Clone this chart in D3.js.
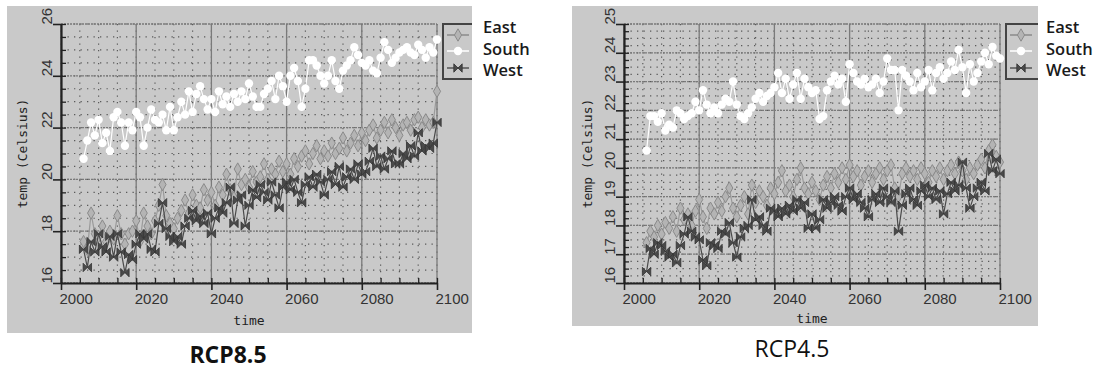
<!DOCTYPE html>
<html>
<head>
<meta charset="utf-8">
<script src="https://cdn.jsdelivr.net/npm/d3@7"></script>
<style>
  body { margin: 0; background: #fff; }
  svg { display: block; }
</style>
</head>
<body>
<svg id="chart" width="1102" height="369"></svg>
<script>
// yearly values, 2006..2100
const years = d3.range(2006, 2101);
const xTicks = [2000, 2020, 2040, 2060, 2080, 2100];
const yTicks85 = [16, 18, 20, 22, 24, 26];
const yTicks45 = [16, 17, 18, 19, 20, 21, 22, 23, 24, 25];
const seriesNames = ["East", "South", "West"];

const east85 = [
  17.6, 17.3, 18.7, 17.9, 17.8, 18.2, 17.6, 18.0, 17.7, 18.6,
  17.9, 17.5, 17.9, 18.0, 18.4, 17.6, 18.7, 18.2, 17.9, 18.4,
  19.0, 19.8, 18.6, 18.3, 18.1, 18.5, 18.8, 19.2, 18.7, 19.4,
  19.0, 18.9, 19.6, 19.2, 19.5, 19.0, 19.7, 19.4, 20.2, 19.6,
  19.3, 20.4, 19.8, 20.0, 19.7, 20.3, 19.9, 20.1, 20.6, 20.0,
  20.4, 20.2, 20.7, 20.3, 20.6, 20.2, 20.8, 20.5, 20.9, 21.1,
  20.6, 21.0, 21.3, 20.8, 21.1, 20.9, 21.4, 21.0, 21.2, 21.6,
  21.1, 21.4, 21.7, 21.3, 21.8, 21.5, 21.9, 22.1, 21.6, 21.9,
  22.2, 21.8, 22.3, 22.0, 21.7, 22.1, 22.2, 21.9, 22.3, 22.4,
  22.0, 22.3, 22.1, 22.2, 23.4
];
const south85 = [
  20.8, 21.5, 22.2, 21.7, 22.3, 21.4, 21.8, 21.1, 22.4, 22.6,
  22.2, 21.3, 22.2, 21.9, 22.6, 22.4, 21.3, 22.0, 22.7, 22.3,
  22.2, 22.5, 21.9, 22.8, 21.9, 22.4, 23.0, 22.5, 23.4, 22.6,
  23.3, 23.6, 23.1, 22.7, 23.1, 22.6, 23.4, 22.9, 23.2, 22.8,
  23.3, 23.0, 23.4, 23.1, 23.7, 23.2, 22.8, 22.8, 23.3, 23.5,
  23.8, 23.1, 24.0, 23.6, 23.0, 24.0, 24.3, 23.8, 22.8, 23.5,
  24.6, 24.6, 24.4, 24.0, 23.7, 24.0, 24.6, 23.8, 23.5, 24.2,
  24.4, 24.6, 25.1, 24.8, 24.5, 24.4, 24.6, 24.2, 24.1, 24.7,
  25.3, 25.0, 24.5, 24.7, 24.9, 25.0, 25.1, 24.9, 24.8, 25.2,
  25.0, 24.7, 25.1, 24.9, 25.4
];
const west85 = [
  17.3, 16.6, 17.6, 17.2, 17.9, 17.4, 17.2, 17.8, 17.0, 17.9,
  17.2, 16.4, 17.1, 16.9, 17.5, 17.9, 17.7, 17.9, 17.3, 17.2,
  18.3, 19.1, 18.1, 17.8, 17.6, 17.8, 17.5, 18.2, 18.5, 18.8,
  18.4, 18.6, 18.3, 18.7, 17.9, 18.5, 18.9, 18.7, 19.1, 19.7,
  18.3, 19.2, 19.4, 18.2, 19.0, 19.6, 19.3, 19.8, 19.5, 19.2,
  19.9, 19.4, 18.9, 19.7, 19.9, 19.6, 20.0, 19.5, 19.1, 19.8,
  20.1, 19.7, 20.2, 19.9, 19.4, 20.0, 20.3, 19.8, 20.5, 19.7,
  20.1, 20.4, 20.0, 20.6, 20.2, 20.3, 20.7, 21.2, 20.5, 20.9,
  20.4, 20.8, 21.1, 20.6, 20.6, 21.0, 20.8, 21.3, 20.9, 21.8,
  21.1, 21.3, 21.2, 21.4, 22.2
];
const east45 = [
  17.4, 17.8, 17.6, 18.0, 17.7, 18.1, 17.9, 18.3, 17.8, 18.6,
  18.2, 18.4, 18.0, 18.5, 18.9, 18.3, 17.9, 18.6, 18.4, 18.8,
  18.5, 19.0, 19.3, 18.6, 18.3, 18.7, 19.0, 18.4, 19.4, 18.8,
  19.2, 19.0, 18.7, 19.3, 19.1, 19.5, 19.9, 19.2, 19.4, 19.0,
  19.6, 20.0, 19.3, 19.1, 19.5, 19.2, 18.9, 19.4, 19.7, 19.3,
  19.8, 19.5, 20.0, 19.6, 20.1, 19.7, 19.9, 19.4, 19.7, 19.9,
  19.5, 19.8, 20.0, 19.6, 19.9, 20.1, 19.3, 19.0, 19.8, 20.0,
  19.7, 19.9, 19.6, 20.0, 19.8, 19.5, 19.9, 19.7, 20.0, 19.6,
  19.9, 20.1, 19.8, 20.2, 19.9, 19.6, 20.0, 19.8, 20.1, 20.3,
  20.0, 20.6, 20.8, 20.4, 20.2
];
const south45 = [
  20.6, 21.8, 21.8, 21.6, 21.9, 21.3, 21.5, 21.4, 22.0, 21.9,
  21.7, 21.8, 21.9, 22.3, 22.0, 22.7, 22.2, 21.9, 22.1, 21.9,
  22.2, 22.4, 22.3, 23.0, 22.2, 21.8, 21.7, 21.9, 22.1, 22.4,
  22.6, 22.3, 22.5, 22.6, 22.8, 23.3, 22.6, 23.1, 22.4, 22.9,
  23.3, 22.4, 23.1, 22.8, 22.6, 22.7, 21.7, 21.8, 22.7, 23.0,
  23.2, 22.9, 23.1, 22.3, 23.6, 23.3, 23.0, 22.9, 23.1, 22.8,
  22.9, 23.1, 22.6, 23.0, 23.8, 23.4, 23.4, 22.0, 23.4, 23.2,
  23.0, 22.7, 23.3, 22.8, 23.0, 23.4, 22.7, 23.3, 23.5, 23.1,
  23.3, 23.7, 23.4, 24.1, 23.5, 22.6, 23.6, 23.0, 23.3, 23.7,
  24.0, 23.6, 24.2, 23.9, 23.8
];
const west45 = [
  16.4, 17.2, 17.0, 17.4, 17.3, 17.1, 16.9, 17.0, 16.7, 17.3,
  17.7, 18.3, 17.8, 17.6, 17.5, 16.8, 16.6, 17.4, 17.3, 17.2,
  17.8, 17.7, 18.1, 17.4, 16.9, 17.6, 17.9, 18.0, 18.9, 18.2,
  18.3, 18.0, 17.8, 18.6, 18.5, 18.3, 18.6, 18.4, 18.7, 18.5,
  18.9, 18.6, 18.8, 17.9, 18.4, 17.9, 18.2, 18.9, 18.6, 18.8,
  19.0, 18.7, 18.5, 19.0, 19.3, 18.9, 19.1, 18.8, 18.6, 18.3,
  18.9, 19.1, 18.8, 19.3, 19.0, 18.8, 19.2, 17.8, 18.7, 19.1,
  19.3, 18.9, 18.7, 19.2, 19.4, 19.0, 19.3, 18.9, 19.2, 18.4,
  19.1, 19.5, 19.2, 19.4, 20.2, 19.3, 18.6, 19.0, 19.3, 19.5,
  19.2, 20.5, 19.9, 20.3, 19.8
];

const svg = d3.select("#chart");
const bg = "#c9c9c9";

// marker shapes
const diamond = d3.symbol().type(d3.symbolDiamond).size(44);
const bowtie = "M-4.2,-4.2L0,0L-4.2,4.2Z M4.2,-4.2L0,0L4.2,4.2Z";

function drawPanel(p) {
  const root = svg.append("g");
  const clipId = "clip" + p.id;
  root.append("clipPath").attr("id", clipId)
    .append("rect").attr("x", p.box[0]).attr("y", p.box[1])
    .attr("width", p.box[2] - p.box[0]).attr("height", p.box[3] - p.box[1]);

  root.append("rect")
    .attr("x", p.box[0]).attr("y", p.box[1])
    .attr("width", p.box[2] - p.box[0]).attr("height", p.box[3] - p.box[1])
    .attr("fill", bg);

  const x = d3.scaleLinear().domain([2000, 2100]).range([p.left, p.right]);
  const y = d3.scaleLinear().domain(p.yDomain).range([p.bottom, p.top]);

  const xMinor = d3.range(2000, 2101, 5);
  const ySub = (p.yTicks[1] - p.yTicks[0]) / 4;
  const yMinor = d3.range(p.yDomain[0], p.yDomain[1] + 1e-9, ySub);

  // minor dotted grid
  const grid = root.append("g");
  grid.selectAll(".vm").data(xMinor).join("line")
    .attr("x1", d => x(d)).attr("x2", d => x(d))
    .attr("y1", p.top).attr("y2", p.bottom)
    .attr("stroke", "#5a5a5a").attr("stroke-width", 1.2)
    .attr("stroke-dasharray", "1.3,5.2");
  grid.selectAll(".hm").data(yMinor).join("line")
    .attr("x1", p.left).attr("x2", p.right)
    .attr("y1", d => y(d)).attr("y2", d => y(d))
    .attr("stroke", "#5a5a5a").attr("stroke-width", 1.2)
    .attr("stroke-dasharray", "1.3,5.2");

  // major grid
  grid.selectAll(".vM").data(xTicks).join("line")
    .attr("x1", d => x(d)).attr("x2", d => x(d))
    .attr("y1", p.top).attr("y2", p.bottom)
    .attr("stroke", "#7a7a7a").attr("stroke-width", 1.3);
  grid.selectAll(".hM").data(p.yTicks).join("line")
    .attr("x1", p.left).attr("x2", p.right)
    .attr("y1", d => y(d)).attr("y2", d => y(d))
    .attr("stroke", "#7a7a7a").attr("stroke-width", 1.3)
    .attr("stroke-dasharray", "2,1");

  // axes
  const xAxis = d3.axisBottom(x).tickValues(xTicks).tickSize(7).tickSizeOuter(0)
    .tickFormat(d3.format("d"));
  const gx = root.append("g").attr("transform", `translate(0,${p.bottom})`).call(xAxis);
  gx.select(".domain").attr("stroke", "#222").attr("stroke-width", 2.2);
  gx.selectAll(".tick line").attr("stroke", "#222").attr("stroke-width", 1.6);
  gx.selectAll(".tick text")
    .attr("text-anchor", "start").attr("dx", -2).attr("y", 10)
    .attr("font-family", "Liberation Sans, Arial, sans-serif")
    .attr("font-size", 15).attr("fill", "#333");

  const gxm = root.append("g").attr("transform", `translate(0,${p.bottom})`)
    .call(d3.axisBottom(x).tickValues(xMinor).tickSize(-5).tickSizeOuter(0).tickFormat(""));
  gxm.select(".domain").remove();
  gxm.selectAll(".tick line").attr("stroke", "#222").attr("stroke-width", 1.3);

  const yAxis = d3.axisLeft(y).tickValues(p.yTicks).tickSize(8).tickSizeOuter(0)
    .tickFormat(d3.format("d"));
  const gy = root.append("g").attr("transform", `translate(${p.left},0)`).call(yAxis);
  gy.select(".domain").attr("stroke", "#222").attr("stroke-width", 2.2);
  gy.selectAll(".tick line").attr("stroke", "#222").attr("stroke-width", 1.6);
  gy.selectAll(".tick text")
    .attr("x", null).attr("dy", null)
    .attr("transform", `translate(${p.yLabelX},0) rotate(-90)`)
    .attr("text-anchor", "start")
    .attr("font-family", "Liberation Sans, Arial, sans-serif")
    .attr("font-size", 15).attr("fill", "#333");

  const gym = root.append("g").attr("transform", `translate(${p.left},0)`)
    .call(d3.axisLeft(y).tickValues(yMinor).tickSize(-5).tickSizeOuter(0).tickFormat(""));
  gym.select(".domain").remove();
  gym.selectAll(".tick line").attr("stroke", "#222").attr("stroke-width", 1.3);

  // axis titles
  root.append("text")
    .attr("transform", `translate(${p.titleX},${(p.top + p.bottom) / 2}) rotate(-90)`)
    .attr("text-anchor", "middle")
    .attr("font-family", "DejaVu Sans Mono, monospace").attr("font-size", 13)
    .attr("fill", "#222").text("temp (Celsius)");
  root.append("text")
    .attr("x", (p.left + p.right) / 2).attr("y", p.timeY)
    .attr("text-anchor", "middle")
    .attr("font-family", "DejaVu Sans Mono, monospace").attr("font-size", 13)
    .attr("fill", "#222").text("time");

  // series
  const line = d3.line().x((d, i) => x(years[i])).y(d => y(d));
  const plot = root.append("g");

  plot.append("path").datum(p.east).attr("d", line)
    .attr("fill", "none").attr("stroke", "#9a9a9a").attr("stroke-width", 1.2);
  plot.selectAll(".e").data(p.east).join("path")
    .attr("transform", (d, i) => `translate(${x(years[i])},${y(d)})`)
    .attr("d", diamond).attr("fill", "#b4b4b4").attr("stroke", "#8a8a8a").attr("stroke-width", 1);

  plot.append("path").datum(p.west).attr("d", line)
    .attr("fill", "none").attr("stroke", "#4a4a4a").attr("stroke-width", 1.2);
  plot.selectAll(".w").data(p.west).join("path")
    .attr("transform", (d, i) => `translate(${x(years[i])},${y(d)})`)
    .attr("d", bowtie).attr("fill", "#4a4a4a").attr("stroke", "#333").attr("stroke-width", 0.8);

  plot.append("path").datum(p.south).attr("d", line)
    .attr("fill", "none").attr("stroke", "#fff").attr("stroke-width", 1.2);
  plot.selectAll(".s").data(p.south).join("circle")
    .attr("cx", (d, i) => x(years[i])).attr("cy", d => y(d)).attr("r", 4.2)
    .attr("fill", "#fff");

  // legend (right edge hidden by panel edge)
  const lg = root.append("g").attr("clip-path", `url(#${clipId})`);
  const lx = p.right + 6;
  lg.append("rect").attr("x", lx).attr("y", p.top).attr("width", 50).attr("height", 55)
    .attr("fill", bg).attr("stroke", "#444").attr("stroke-width", 2);
  const ly = [p.top + 11, p.top + 27, p.top + 44];
  const sx = lx + 15;
  lg.append("line").attr("x1", lx + 4).attr("x2", lx + 26).attr("y1", ly[0]).attr("y2", ly[0])
    .attr("stroke", "#8a8a8a").attr("stroke-width", 1.5);
  lg.append("path").attr("transform", `translate(${sx},${ly[0]})`).attr("d", diamond)
    .attr("fill", "#b4b4b4").attr("stroke", "#8a8a8a");
  lg.append("line").attr("x1", lx + 4).attr("x2", lx + 26).attr("y1", ly[1]).attr("y2", ly[1])
    .attr("stroke", "#fff").attr("stroke-width", 1.5);
  lg.append("circle").attr("cx", sx).attr("cy", ly[1]).attr("r", 4.2).attr("fill", "#fff");
  lg.append("line").attr("x1", lx + 4).attr("x2", lx + 26).attr("y1", ly[2]).attr("y2", ly[2])
    .attr("stroke", "#555").attr("stroke-width", 1.5);
  lg.append("path").attr("transform", `translate(${sx},${ly[2]})`).attr("d", bowtie)
    .attr("fill", "#4a4a4a").attr("stroke", "#333").attr("stroke-width", 0.8);

  root.selectAll(".lt").data(seriesNames).join("text")
    .attr("x", p.legendTextX).attr("y", (d, i) => 33 + i * 21.5)
    .attr("font-family", "Open Sans, sans-serif").attr("font-weight", 600)
    .attr("font-size", 16.5).attr("fill", "#1a1a1a").text(d => d);

  root.append("text")
    .attr("x", p.captionX).attr("y", p.captionY).attr("text-anchor", "middle")
    .attr("font-family", "Open Sans, sans-serif").attr("font-weight", p.captionWeight)
    .attr("font-size", 23).attr("fill", "#111").text(p.caption);
}

drawPanel({
  id: 1, box: [7, 6, 472, 333], left: 61, right: 437, top: 24, bottom: 283,
  yDomain: [16, 26], yTicks: yTicks85, yLabelX: -9, titleX: 27, timeY: 325,
  east: east85, south: south85, west: west85,
  legendTextX: 483, caption: "RCP8.5", captionX: 228, captionY: 363, captionWeight: 700
});
drawPanel({
  id: 2, box: [572, 6, 1038, 326], left: 624, right: 1000, top: 24, bottom: 283,
  yDomain: [16, 25], yTicks: yTicks45, yLabelX: -9, titleX: 592, timeY: 323,
  east: east45, south: south45, west: west45,
  legendTextX: 1046, caption: "RCP4.5", captionX: 792, captionY: 357, captionWeight: 400
});
</script>
</body>
</html>
